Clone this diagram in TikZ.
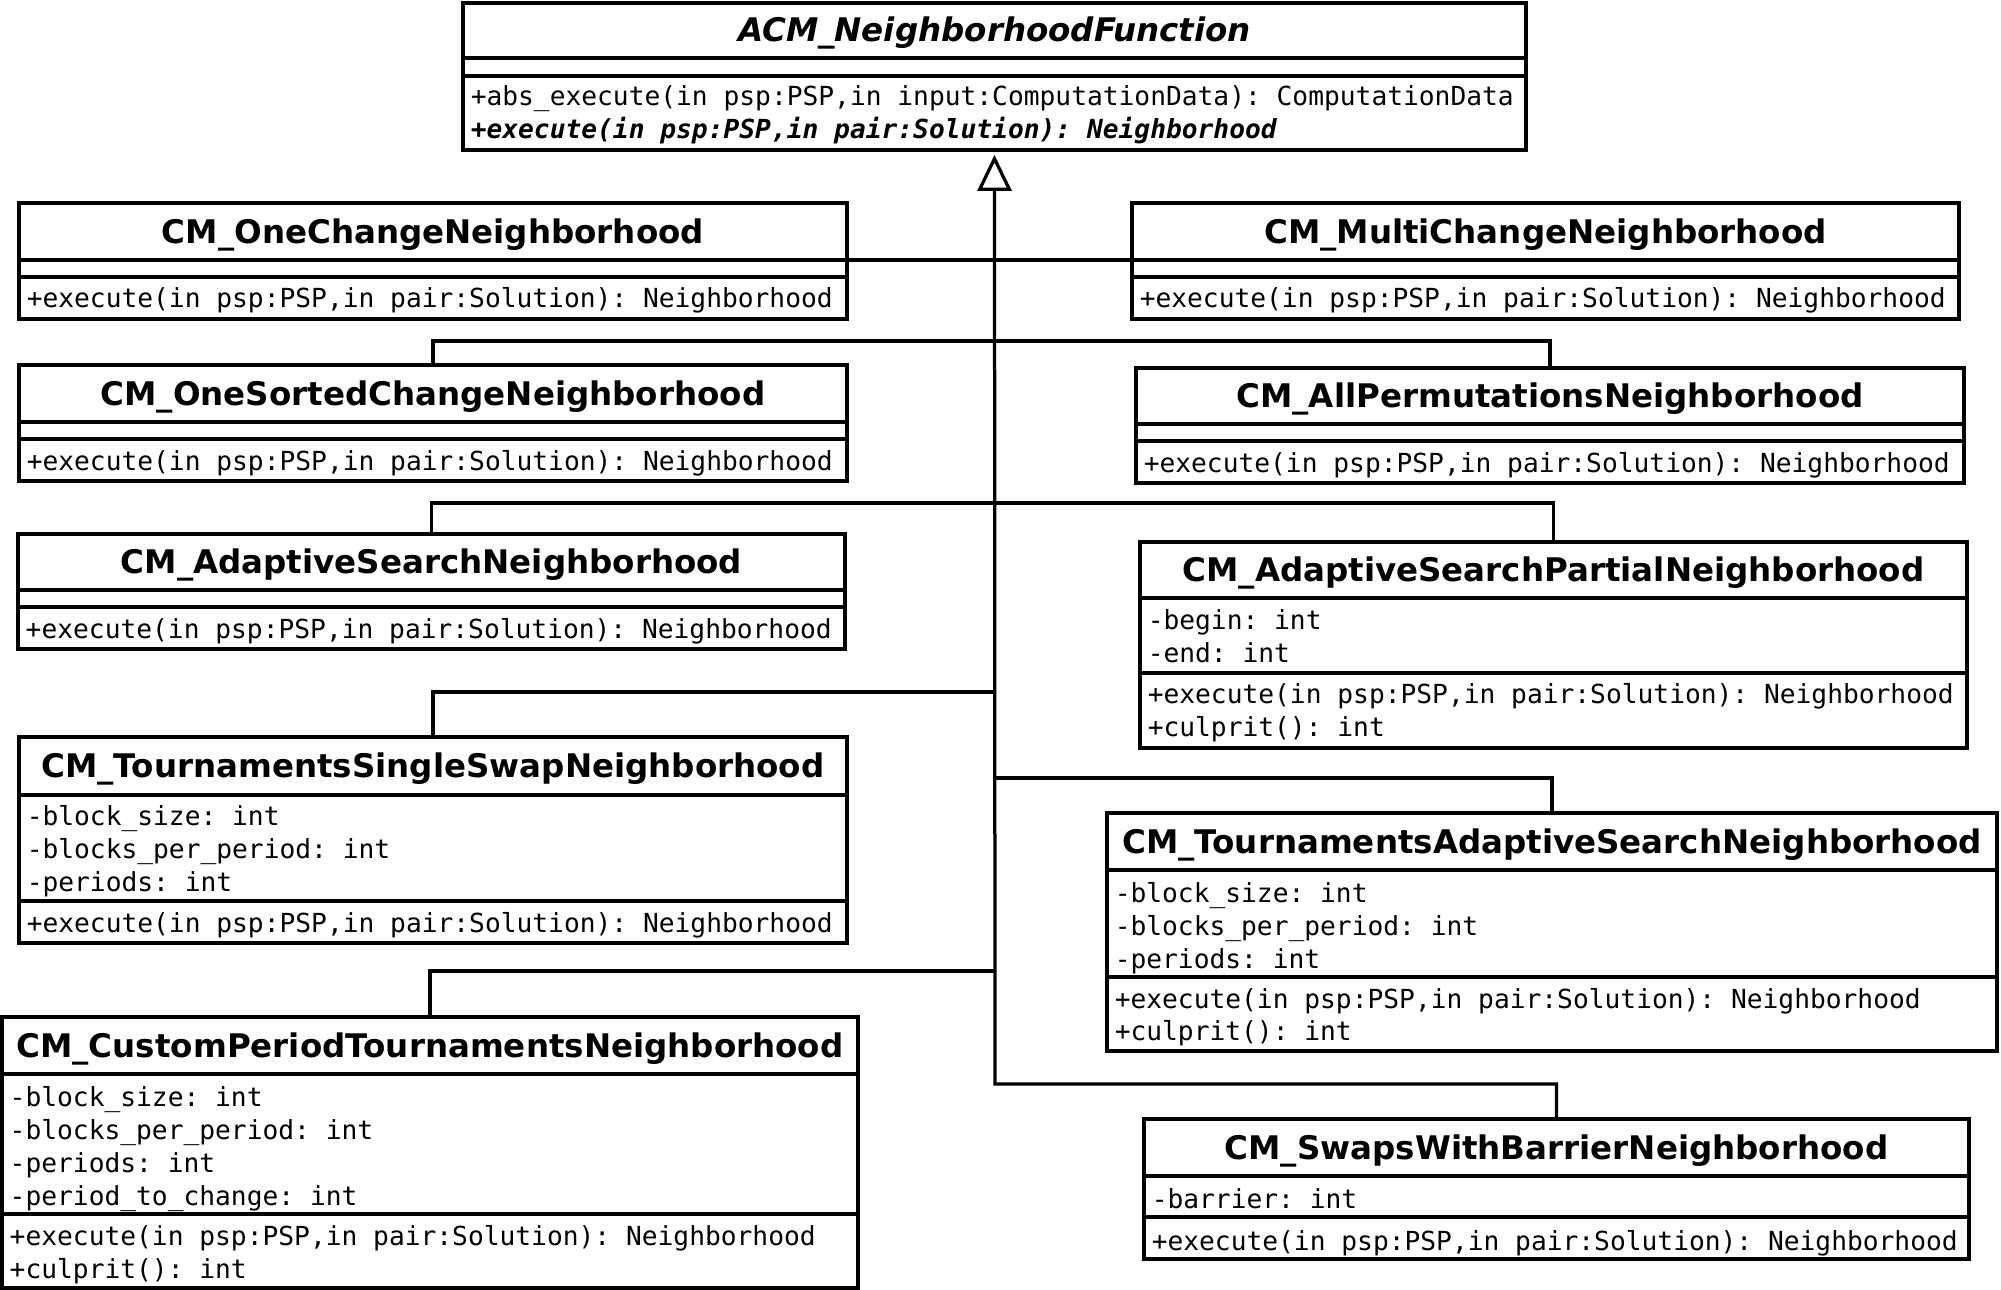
\documentclass[tikz,border=0pt]{standalone}
\usepackage{fontspec}
\newfontfamily\titlefont{DejaVu Sans}
\newfontfamily\monofont{DejaVu Sans Mono}
\usetikzlibrary{arrows.meta,fit}
\frenchspacing

\tikzset{
  classbox/.style={draw, line width=1.55pt, inner sep=0pt, fill=white},
  sepline/.style={line width=1.55pt},
  conn/.style={line width=1.3pt},
  classtitle/.style={anchor=base, inner sep=0pt, font=\titlefont\bfseries\fontsize{13pt}{15pt}\selectfont},
  member/.style={anchor=base west, inner sep=0pt, xshift=0.9pt, yshift=-0.8pt, font=\monofont\fontsize{10.5pt}{12pt}\selectfont},
}

% name, left, top, right, bottom, sep1, sep2
\newcommand\umlbox[7]{%
  \node[classbox, fit={(#2,#3) (#4,#5)}] (#1) {};
  \draw[sepline] (#2,#6) -- (#4,#6);
  \draw[sepline] (#2,#7) -- (#4,#7);
  \coordinate (#1-sl) at (#2,#6);
  \coordinate (#1-sr) at (#4,#6);
}
\newcommand\mem[4]{\node[member] (#1) at (#2,#3) {\frenchspacing #4};}

\begin{document}
\begin{tikzpicture}[x=0.4pt, y=-0.4pt]
\useasboundingbox (0,0) rectangle (2001,1290);

% ---------- abstract parent ----------
\umlbox{acm}{463}{3}{1526}{150}{58}{76}
\node[classtitle, font=\titlefont\bfseries\itshape\fontsize{13pt}{15pt}\selectfont] (acm-t) at (994.5,42) {ACM\_NeighborhoodFunction};
\mem{acm-m1}{468}{104}{+abs\_execute(in psp:PSP,in input:ComputationData): ComputationData}
\node[member, font=\monofont\bfseries\itshape\fontsize{10.5pt}{12pt}\selectfont] (acm-m2) at (468,137) {\frenchspacing +execute(in psp:PSP,in pair:Solution): Neighborhood};

% ---------- CM_OneChangeNeighborhood ----------
\umlbox{onechange}{19}{203}{847}{319}{260}{277}
\node[classtitle] (onechange-t) at (433,243.5) {CM\_OneChangeNeighborhood};
\mem{onechange-m1}{24}{306}{+execute(in psp:PSP,in pair:Solution): Neighborhood}

% ---------- CM_MultiChangeNeighborhood ----------
\umlbox{multichange}{1132}{203}{1959}{319}{260}{277}
\node[classtitle] (multichange-t) at (1545.5,243.5) {CM\_MultiChangeNeighborhood};
\mem{multichange-m1}{1137}{306}{+execute(in psp:PSP,in pair:Solution): Neighborhood}

% ---------- CM_OneSortedChangeNeighborhood ----------
\umlbox{onesorted}{19}{365}{847}{481}{422}{439}
\node[classtitle] (onesorted-t) at (433,405.5) {CM\_OneSortedChangeNeighborhood};
\mem{onesorted-m1}{24}{469}{+execute(in psp:PSP,in pair:Solution): Neighborhood}

% ---------- CM_AllPermutationsNeighborhood ----------
\umlbox{allperm}{1136}{368}{1964}{483}{424}{441}
\node[classtitle] (allperm-t) at (1550,408) {CM\_AllPermutationsNeighborhood};
\mem{allperm-m1}{1141}{471}{+execute(in psp:PSP,in pair:Solution): Neighborhood}

% ---------- CM_AdaptiveSearchNeighborhood ----------
\umlbox{adaptive}{18}{534}{845}{649}{590}{607}
\node[classtitle] (adaptive-t) at (431.5,574) {CM\_AdaptiveSearchNeighborhood};
\mem{adaptive-m1}{23}{637}{+execute(in psp:PSP,in pair:Solution): Neighborhood}

% ---------- CM_AdaptiveSearchPartialNeighborhood ----------
\umlbox{partial}{1140}{542}{1967}{748}{598}{673}
\node[classtitle] (partial-t) at (1553.5,582) {CM\_AdaptiveSearchPartialNeighborhood};
\mem{partial-a1}{1145}{628}{-begin: int}
\mem{partial-a2}{1145}{661}{-end: int}
\mem{partial-m1}{1145}{702}{+execute(in psp:PSP,in pair:Solution): Neighborhood}
\mem{partial-m2}{1145}{735}{+culprit(): int}

% ---------- CM_TournamentsSingleSwapNeighborhood ----------
\umlbox{single}{19}{737}{847}{943}{795}{901}
\node[classtitle] (single-t) at (433,778) {CM\_TournamentsSingleSwapNeighborhood};
\mem{single-a1}{24}{824}{-block\_size: int}
\mem{single-a2}{24}{857}{-blocks\_per\_period: int}
\mem{single-a3}{24}{890}{-periods: int}
\mem{single-m1}{24}{931}{+execute(in psp:PSP,in pair:Solution): Neighborhood}

% ---------- CM_TournamentsAdaptiveSearchNeighborhood ----------
\umlbox{tadaptive}{1107}{813}{1997}{1051}{870}{977}
\node[classtitle] (tadaptive-t) at (1552,853.5) {CM\_TournamentsAdaptiveSearchNeighborhood};
\mem{tadaptive-a1}{1112}{901}{-block\_size: int}
\mem{tadaptive-a2}{1112}{934}{-blocks\_per\_period: int}
\mem{tadaptive-a3}{1112}{967}{-periods: int}
\mem{tadaptive-m1}{1112}{1006}{+execute(in psp:PSP,in pair:Solution): Neighborhood}
\mem{tadaptive-m2}{1112}{1039}{+culprit(): int}

% ---------- CM_CustomPeriodTournamentsNeighborhood ----------
\umlbox{custom}{2}{1017}{858}{1288}{1074}{1214}
\node[classtitle] (custom-t) at (430,1057.5) {CM\_CustomPeriodTournamentsNeighborhood};
\mem{custom-a1}{7}{1104}{-block\_size: int}
\mem{custom-a2}{7}{1137}{-blocks\_per\_period: int}
\mem{custom-a3}{7}{1170}{-periods: int}
\mem{custom-a4}{7}{1203}{-period\_to\_change: int}
\mem{custom-m1}{7}{1243}{+execute(in psp:PSP,in pair:Solution): Neighborhood}
\mem{custom-m2}{7}{1276}{+culprit(): int}

% ---------- CM_SwapsWithBarrierNeighborhood ----------
\umlbox{barrier}{1144}{1119}{1969}{1259}{1176}{1217}
\node[classtitle] (barrier-t) at (1556.5,1159.5) {CM\_SwapsWithBarrierNeighborhood};
\mem{barrier-a1}{1149}{1206}{-barrier: int}
\mem{barrier-m1}{1149}{1248}{+execute(in psp:PSP,in pair:Solution): Neighborhood}

% ---------- generalization connectors ----------
\coordinate (j2) at (995,341);
\coordinate (j3) at (995,503);
\coordinate (j4) at (995,692);
\coordinate (j5) at (995,778);
\coordinate (j6) at (995,971);
\coordinate (jbot) at (995,1084);

\draw[conn] (onechange-sr) -- (multichange-sl);
\draw[conn] (onesorted.north) |- (j2) -| (allperm.north);
\draw[conn] (adaptive.north) |- (j3) -| (partial.north);
\draw[conn] (single.north) |- (j4);
\draw[conn] (tadaptive.north) |- (j5);
\draw[conn] (custom.north) |- (j6);
\draw[conn, -{Triangle[open, length=14.4pt, width=13.6pt, line width=1.3pt]}]
  (barrier.north) |- (jbot) -- ([yshift=-1.2pt]acm.south);
\end{tikzpicture}
\end{document}
